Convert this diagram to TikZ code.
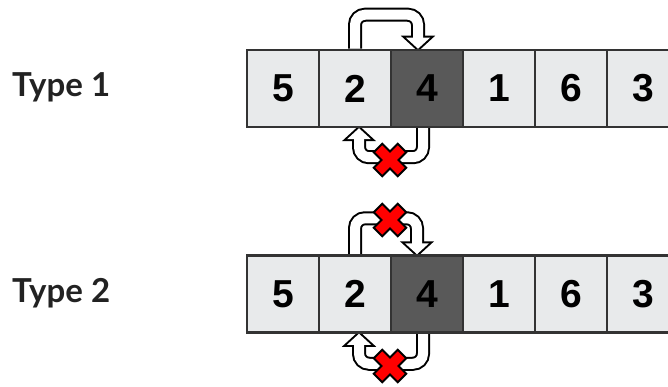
\documentclass[tikz,border=0pt]{standalone}
\usepackage{fontspec}
\usepackage{tikz}
\usetikzlibrary{backgrounds}
\newfontfamily\labelfont{Lato}
\newfontfamily\digitfont{Liberation Sans}
\definecolor{cellfill}{HTML}{E8EAEB}
\definecolor{pivotfill}{HTML}{595959}
\definecolor{cellline}{HTML}{333333}
\definecolor{labelgray}{HTML}{222222}
\definecolor{crossred}{HTML}{FF0000}
\tikzset{
	%Define style for array cells
	cell/.style={
		rectangle,
		draw=cellline, line width=2.5pt,
		fill=cellfill,
		minimum width=72pt,
		minimum height=77pt,
		inner sep=0pt,
		font=\digitfont\bfseries\fontsize{39}{39}\selectfont},
	% Define style for the row labels
	rowlabel/.style={
		anchor=west,
		inner sep=0pt,
		text=labelgray,
		font=\labelfont\bfseries\fontsize{33}{33}\selectfont},
	% Define layers of the hollow arrows
	bandout/.style={line width=14pt, draw=black, rounded corners=10pt},
	bandin/.style={line width=10pt, draw=white, rounded corners=10pt},
	headout/.style={line width=4pt, draw=black, line join=miter},
	% Define style for the red crosses
	nocross/.style={fill=crossred, draw=black, line width=2pt, line join=miter}
}
% hollow arrow: start, rise, tip, side of the wings
\newcommand{\hollowarrow}[4]{%
	\draw[bandout, shorten >=7pt] #1 -- ++(0,#2) -| #3;
	\draw[headout] #3 -- ++(-12,{11*#4}) -- ++(24,0) -- cycle;
	\draw[bandin, shorten >=5pt] #1 -- ++(0,#2) -| #3;
	\fill[white] #3 -- ++(-12,{11*#4}) -- ++(24,0) -- cycle;
}
% red cross centred at the given point
\newcommand{\nomark}[1]{%
	\draw[nocross, shift={#1}, rotate=45]
		(-6,-17) -- (6,-17) -- (6,-6) -- (17,-6) -- (17,6) -- (6,6)
		-- (6,17) -- (-6,17) -- (-6,6) -- (-17,6) -- (-17,-6) -- (-6,-6) -- cycle;
}
\begin{document}
\begin{tikzpicture}[x=1pt, y=-1pt]
	\useasboundingbox (0,0) rectangle (668,387);
	%rows of cells
	\foreach \v/\f [count=\i] in {5/cellfill,2/cellfill,4/pivotfill,1/cellfill,6/cellfill,3/cellfill} {
		\node[cell, fill=\f] (a\i) at (211+72*\i, 88.5) {\v};
		\node[cell, fill=\f] (b\i) at (211+72*\i, 294) {\v};
	}
	\node[rowlabel] (ta) at (12, 87) {Type 1};
	\node[rowlabel] (tb) at (12, 293) {Type 2};
	% arrows go behind the cells
	\begin{scope}[on background layer]
		\hollowarrow{(a2.north)}{-34}{([xshift=-9pt]a3.north)}{-1}
		\hollowarrow{([xshift=-4pt]a3.south)}{29}{([xshift=4pt]a2.south)}{1}
		\hollowarrow{(b2.north)}{-36}{([xshift=-10pt]b3.north)}{-1}
		\hollowarrow{([xshift=-4pt]b3.south)}{30}{([xshift=4pt]b2.south)}{1}
	\end{scope}
	% crosses
	\nomark{(390,160)}
	\nomark{(390,220)}
	\nomark{(390,366)}
\end{tikzpicture}
\end{document}
